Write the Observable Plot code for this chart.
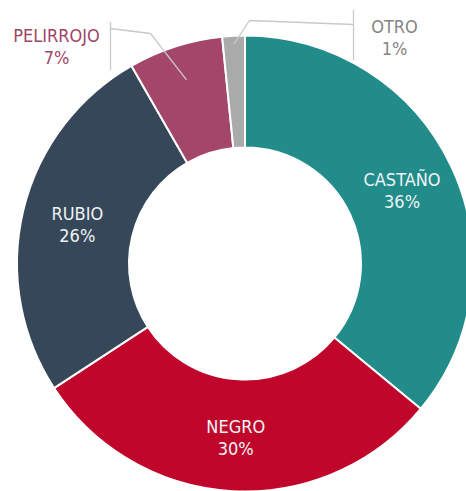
<!DOCTYPE html>
<html><head><meta charset="utf-8">
<script src="https://cdn.jsdelivr.net/npm/d3@7"></script>
<script src="https://cdn.jsdelivr.net/npm/@observablehq/plot@0.6"></script>
<style>body{margin:0;background:#fff;overflow:hidden}</style>
</head><body><div id="chart"></div>
<script>
// ---- data ----
const categories = ["CASTAÑO", "NEGRO", "RUBIO", "PELIRROJO", "OTRO"];
const shares = [36, 29.8, 25.9, 6.7, 1.6];          // arc shares as drawn (%)
const pctLabels = ["36%", "30%", "26%", "7%", "1%"];
const colors = ["#218c89", "#c1062b", "#36475a", "#a4466a", "#aaaaaa"];
const insideCats = ["CASTAÑO", "NEGRO", "RUBIO"];
const outsideCats = ["PELIRROJO", "OTRO"];

// ---- layout ----
const W = 466, H = 491, cx = 245, cy = 263.5;
const R = 228, r0 = 116, rLabel = 173;
const font = "'Liberation Sans Narrow', 'DejaVu Sans Condensed', 'Roboto', sans-serif";

const color = Plot.scale({color: {domain: categories, range: colors}});
const arcs = d3.pie().sort(null).value(d => d.value)(
  categories.map((c, i) => ({category: c, value: shares[i], pct: pctLabels[i]}))
);
const rows = arcs.map(a => {
  const mid = (a.startAngle + a.endAngle) / 2;
  return {category: a.data.category, pct: a.data.pct, mid,
          x: rLabel * Math.sin(mid), y: rLabel * Math.cos(mid)};
});
const byCat = Object.fromEntries(rows.map(d => [d.category, d]));
const polar = (cat, r) => [r * Math.sin(byCat[cat].mid), r * Math.cos(byCat[cat].mid)];

// leader lines for outside labels
const [px0, py0] = polar("PELIRROJO", 194);
const [ox0, oy0] = polar("OTRO", 221);
const leaders = [
  {k: "PELIRROJO", x: px0, y: py0}, {k: "PELIRROJO", x: -95, y: 230.5}, {k: "PELIRROJO", x: -135, y: 235.5},
  {k: "OTRO", x: ox0, y: oy0}, {k: "OTRO", x: 4, y: 243.5}, {k: "OTRO", x: 108, y: 239.5}
];
const bars = [
  {x: -135, y1: 193.5, y2: 241.5},
  {x: 108, y1: 203.5, y2: 253.5}
];
const outside = [
  {category: "PELIRROJO", text: "PELIRROJO\n" + byCat["PELIRROJO"].pct, x: -189, y: 218.5, fill: "#a0456a"},
  {category: "OTRO", text: "OTRO\n" + byCat["OTRO"].pct, x: 149, y: 227.5, fill: "#858585"}
];

const donut = (index, scales) => {
  const X = scales.x, Y = scales.y;
  const ro = X(R) - X(0), ri = X(r0) - X(0);
  const arc = d3.arc().innerRadius(ri).outerRadius(ro);
  const g = d3.create("svg:g").attr("transform", `translate(${X(0)},${Y(0)})`);
  g.selectAll("path").data(arcs).join("path")
    .attr("d", arc)
    .attr("fill", d => color.apply(d.data.category))
    .attr("stroke", "#fff").attr("stroke-width", 2).attr("stroke-linejoin", "round");
  return g.node();
};

const chart = Plot.plot({
  width: W, height: H,
  margin: 0,
  x: {domain: [-cx, W - cx], axis: null},
  y: {domain: [cy - H, cy], axis: null},
  style: {background: "#fff", fontFamily: font},
  marks: [
    donut,
    Plot.line(leaders, {x: "x", y: "y", z: "k", stroke: "#c9c9c9", strokeWidth: 1.3}),
    Plot.ruleX(bars, {x: "x", y1: "y1", y2: "y2", stroke: "#c9c9c9", strokeWidth: 1.3}),
    Plot.text(rows.filter(d => insideCats.includes(d.category)), {
      x: "x", y: "y", text: d => d.category + "\n" + d.pct,
      fill: "#eef4f5", fontSize: 18, lineHeight: 1.22, lineAnchor: "middle", fontFamily: font
    }),
    Plot.text(outside, {
      x: "x", y: "y", text: "text", fill: "fill",
      fontSize: 18, lineHeight: 1.22, lineAnchor: "middle", fontFamily: font
    })
  ]
});
document.getElementById("chart").appendChild(chart);
</script>
</body></html>
